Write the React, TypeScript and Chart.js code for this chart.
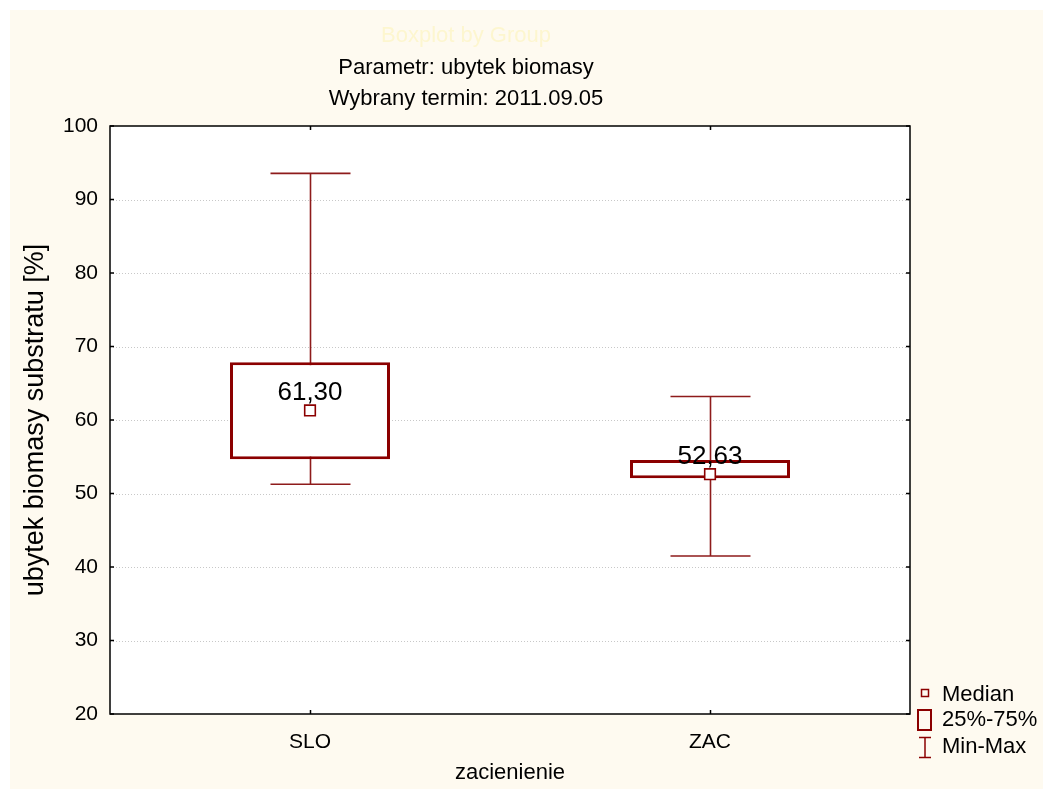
import React, { useEffect, useRef } from "react";
import { Chart, registerables } from "chart.js";

Chart.register(...registerables);

const categories = ["SLO", "ZAC"];
const minValues = [51.25, 41.5];
const q1Values = [54.65, 52.07];
const medianValues = [61.3, 52.63];
const q3Values = [67.85, 54.56];
const maxValues = [93.55, 63.2];
const medianLabels = ["61,30", "52,63"];
const yMin = 20;
const yMax = 100;
const yStep = 10;
const titleLines = ["Boxplot by Group", "Parametr: ubytek biomasy", "Wybrany termin: 2011.09.05"];
const yAxisTitle = "ubytek biomasy substratu [%]";
const xAxisTitle = "zacienienie";
const legendItems = ["Median", "25%-75%", "Min-Max"];

const FONT = "'Liberation Sans', Arial, sans-serif";
const DARK_RED = "#8b0000";
const WHISKER = "#8e1b1b";
const BG = "#fefaf0";

const customPlugin = {
  id: "customDraw",
  beforeDraw(chart: any) {
    const { ctx, chartArea: a, width, height } = chart;
    ctx.save();
    ctx.fillStyle = BG;
    ctx.fillRect(0, 0, width, height);
    ctx.fillStyle = "#ffffff";
    ctx.fillRect(a.left, a.top, a.right - a.left, a.bottom - a.top);
    const y = chart.scales.y;
    ctx.strokeStyle = "#c8c8c8";
    ctx.lineWidth = 1;
    ctx.setLineDash([1, 2]);
    y.ticks.forEach((t: any) => {
      const py = Math.round(y.getPixelForValue(t.value)) + 0.5;
      if (t.value === yMin || t.value === yMax) return;
      ctx.beginPath();
      ctx.moveTo(a.left, py);
      ctx.lineTo(a.right, py);
      ctx.stroke();
    });
    ctx.setLineDash([]);
    ctx.restore();
  },
  beforeDatasetsDraw(chart: any) {
    const { ctx } = chart;
    const x = chart.scales.x;
    const y = chart.scales.y;
    const meta = chart.getDatasetMeta(1);
    ctx.save();
    ctx.strokeStyle = WHISKER;
    ctx.lineWidth = 1.6;
    categories.forEach((_, i) => {
      const px = Math.round(x.getPixelForValue(i)) + 0.5;
      const el = meta.data[i];
      const bw = el && typeof el.width === "number" ? el.width : 160;
      const half = bw / 4;
      const yTop = y.getPixelForValue(maxValues[i]);
      const yBot = y.getPixelForValue(minValues[i]);
      ctx.beginPath();
      ctx.moveTo(px, yTop);
      ctx.lineTo(px, yBot);
      ctx.moveTo(px - half, yTop);
      ctx.lineTo(px + half, yTop);
      ctx.moveTo(px - half, yBot);
      ctx.lineTo(px + half, yBot);
      ctx.stroke();
    });
    ctx.restore();
  },
  afterDatasetsDraw(chart: any) {
    const { ctx } = chart;
    const x = chart.scales.x;
    const y = chart.scales.y;
    ctx.save();
    ctx.fillStyle = "#000";
    ctx.font = `26px ${FONT}`;
    ctx.textAlign = "center";
    ctx.textBaseline = "alphabetic";
    categories.forEach((_, i) => {
      const px = x.getPixelForValue(i);
      const py = y.getPixelForValue(medianValues[i]);
      ctx.fillText(medianLabels[i], px, py - 10);
    });
    ctx.restore();
  },
  afterDraw(chart: any) {
    const { ctx, chartArea: a } = chart;
    const x = chart.scales.x;
    const y = chart.scales.y;
    ctx.save();
    ctx.strokeStyle = "#000";
    ctx.lineWidth = 1.5;
    ctx.strokeRect(a.left, a.top, a.right - a.left, a.bottom - a.top);
    ctx.beginPath();
    y.ticks.forEach((t: any) => {
      const py = y.getPixelForValue(t.value);
      ctx.moveTo(a.left, py);
      ctx.lineTo(a.left + 4, py);
      ctx.moveTo(a.right, py);
      ctx.lineTo(a.right - 4, py);
    });
    categories.forEach((_, i) => {
      const px = Math.round(x.getPixelForValue(i)) + 0.5;
      ctx.moveTo(px, a.bottom);
      ctx.lineTo(px, a.bottom - 4);
      ctx.moveTo(px, a.top);
      ctx.lineTo(px, a.top + 4);
    });
    ctx.stroke();

    ctx.textAlign = "center";
    ctx.textBaseline = "middle";
    ctx.font = `22px ${FONT}`;
    ctx.fillStyle = "#fdf6cf";
    ctx.fillText(titleLines[0], 456, 26);
    ctx.fillStyle = "#000";
    ctx.fillText(titleLines[1], 456, 58);
    ctx.fillText(titleLines[2], 456, 89);

    ctx.font = `22px ${FONT}`;
    ctx.fillText(xAxisTitle, (a.left + a.right) / 2, 763);
    ctx.save();
    ctx.translate(26, (a.top + a.bottom) / 2);
    ctx.rotate(-Math.PI / 2);
    ctx.font = `27px ${FONT}`;
    ctx.fillText(yAxisTitle, 0, 0);
    ctx.restore();

    const lx = 907;
    ctx.textAlign = "left";
    ctx.font = `22px ${FONT}`;
    ctx.fillStyle = "#000";
    ctx.fillText(legendItems[0], 932, 685);
    ctx.fillText(legendItems[1], 932, 710);
    ctx.fillText(legendItems[2], 932, 737);
    ctx.strokeStyle = DARK_RED;
    ctx.lineWidth = 1.5;
    ctx.strokeRect(lx + 4.5, 679.5, 7, 7);
    ctx.lineWidth = 2;
    ctx.strokeRect(lx + 1, 700, 13, 20);
    ctx.lineWidth = 1.5;
    ctx.beginPath();
    ctx.moveTo(lx + 2, 727.5);
    ctx.lineTo(lx + 14, 727.5);
    ctx.moveTo(lx + 8, 727.5);
    ctx.lineTo(lx + 8, 747.5);
    ctx.moveTo(lx + 2, 747.5);
    ctx.lineTo(lx + 14, 747.5);
    ctx.stroke();
    ctx.restore();
  },
};

export default function App() {
  const canvasRef = useRef<HTMLCanvasElement | null>(null);

  useEffect(() => {
    if (!canvasRef.current) return;
    const chart = new Chart(canvasRef.current, {
      type: "bar",
      data: {
        labels: categories,
        datasets: [
          {
            type: "line",
            label: "Median",
            data: medianValues,
            showLine: false,
            pointStyle: "rect",
            pointRadius: 7.5,
            pointBackgroundColor: "#ffffff",
            pointBorderColor: DARK_RED,
            pointBorderWidth: 1.6,
            order: 0,
          } as any,
          {
            type: "bar",
            label: "25%-75%",
            data: categories.map((_, i) => [q1Values[i], q3Values[i]]),
            backgroundColor: "#ffffff",
            borderColor: DARK_RED,
            borderWidth: 3,
            borderSkipped: false,
            barPercentage: 0.4,
            categoryPercentage: 1,
            order: 1,
          } as any,
        ],
      },
      options: {
        animation: false,
        responsive: false,
        devicePixelRatio: 1,
        layout: { padding: { top: 116, right: 133, bottom: 0, left: 0 } },
        plugins: {
          legend: { display: false },
          title: { display: false },
          tooltip: { enabled: false },
        },
        scales: {
          x: {
            type: "category",
            offset: true,
            grid: { display: false, drawTicks: false },
            border: { display: false },
            ticks: { color: "#000", font: { family: FONT, size: 21 }, padding: 16 },
            afterFit: (s: any) => {
              s.height = 75;
            },
          },
          y: {
            min: yMin,
            max: yMax,
            grid: { display: false, drawTicks: false },
            border: { display: false },
            ticks: {
              stepSize: yStep,
              color: "#000",
              font: { family: FONT, size: 21 },
              padding: 12,
            },
            afterFit: (s: any) => {
              s.width = 100;
            },
          },
        },
      },
      plugins: [customPlugin],
    });
    return () => chart.destroy();
  }, []);

  return (
    <div style={{ position: "fixed", left: 10, top: 10, width: 1033, height: 779 }}>
      <canvas ref={canvasRef} width={1033} height={779} style={{ display: "block" }} />
    </div>
  );
}
